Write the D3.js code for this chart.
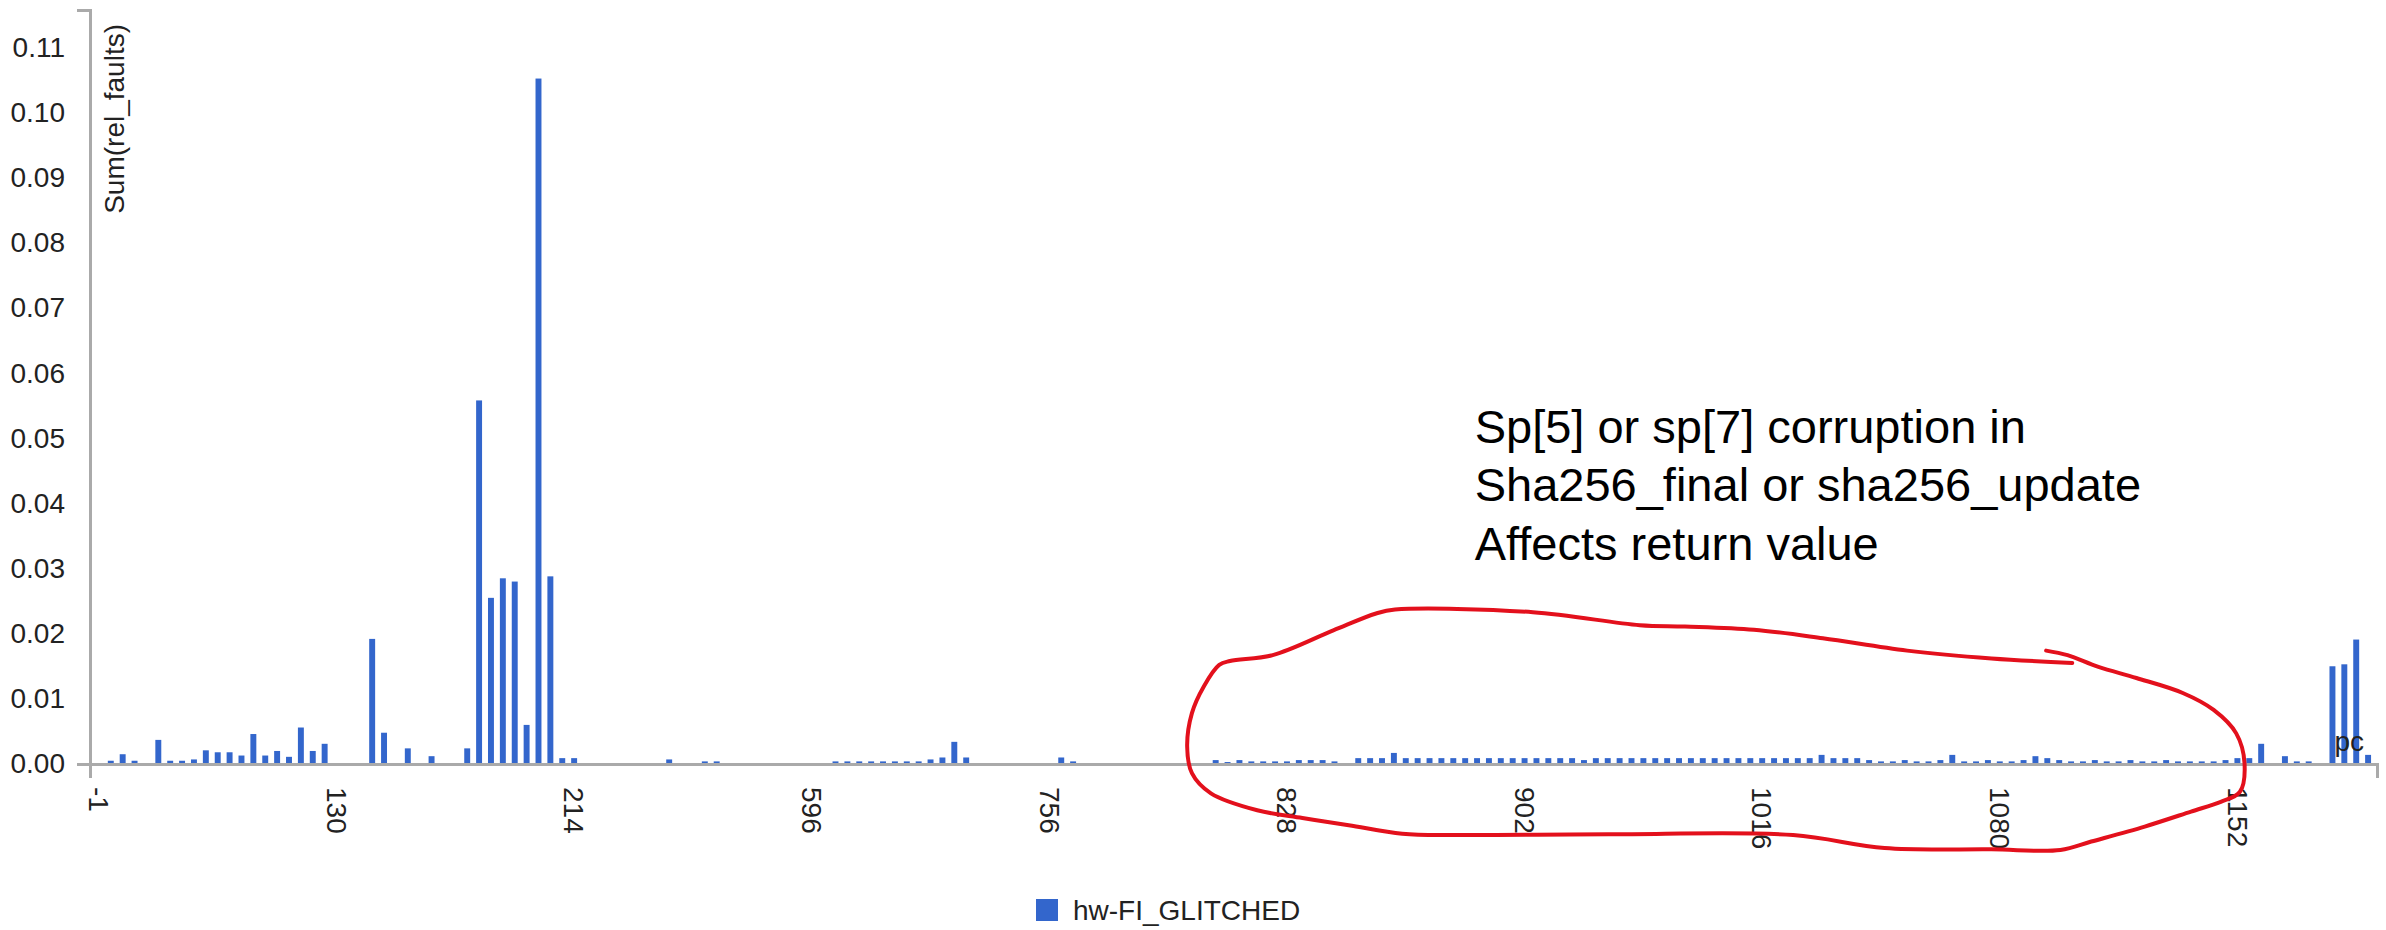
<!DOCTYPE html>
<html>
<head>
<meta charset="utf-8">
<script src="https://cdn.jsdelivr.net/npm/d3@7"></script>
<style>
  body { margin: 0; background: #fff; }
  #chart text { font-family: "Liberation Sans", Arial, sans-serif; }
</style>
</head>
<body>
<div id="chart" g-width="2386" g-height="930"></div>
<script>
// values per pc category (index 0..191)
let relFaults = [
    0, 0.0005, 0.0015, 0.0005, 0, 0.0037, 0.0005, 0.0005, 0.0007, 0.0021,
    0.0018, 0.0018, 0.0013, 0.0046, 0.0013, 0.0020, 0.0011, 0.0056, 0.0020, 0.0031,
    0, 0, 0, 0.0192, 0.0048, 0, 0.0024, 0, 0.0012, 0,
    0, 0.0024, 0.0558, 0.0255, 0.0285, 0.0280, 0.0060, 0.1052, 0.0288, 0.0009,
    0.0009, 0, 0, 0, 0, 0, 0, 0, 0.0007, 0,
    0, 0.0004, 0.0004, 0, 0, 0, 0, 0, 0, 0,
    0, 0, 0.0004, 0.0004, 0.0004, 0.0004, 0.0004, 0.0004, 0.0004, 0.0004,
    0.0007, 0.0010, 0.0034, 0.0010, 0, 0, 0, 0, 0, 0,
    0, 0.0010, 0.0004, 0, 0, 0, 0, 0, 0, 0,
    0, 0, 0, 0, 0.0006, 0.0003, 0.0006, 0.0004, 0.0004, 0.0004,
    0.0004, 0.0006, 0.0006, 0.0006, 0.0004, 0, 0.0009, 0.0009, 0.0009, 0.0017,
    0.0009, 0.0009, 0.0009, 0.0009, 0.0009, 0.0009, 0.0009, 0.0009, 0.0009, 0.0009,
    0.0009, 0.0009, 0.0009, 0.0009, 0.0009, 0.0006, 0.0009, 0.0009, 0.0009, 0.0009,
    0.0009, 0.0009, 0.0009, 0.0009, 0.0009, 0.0009, 0.0009, 0.0009, 0.0009, 0.0009,
    0.0009, 0.0009, 0.0009, 0.0009, 0.0009, 0.0014, 0.0009, 0.0009, 0.0009, 0.0006,
    0.0004, 0.0004, 0.0006, 0.0004, 0.0004, 0.0006, 0.0014, 0.0004, 0.0004, 0.0006,
    0.0004, 0.0004, 0.0006, 0.0012, 0.0009, 0.0006, 0.0004, 0.0004, 0.0006, 0.0004,
    0.0004, 0.0006, 0.0004, 0.0004, 0.0006, 0.0004, 0.0004, 0.0004, 0.0004, 0.0006,
    0.0009, 0.0009, 0.0031, 0, 0.0012, 0.0004, 0.0004, 0, 0.0150, 0.0153,
    0.0191, 0.0014
];

// only every 20th pc is labelled on the axis
let tickIndex = [0, 20, 40, 60, 80, 100, 120, 140, 160, 180];
let tickLabels = ["-1", "130", "214", "596", "756", "828", "902", "1016", "1080", "1152"];

let yTicks = [0, 0.01, 0.02, 0.03, 0.04, 0.05, 0.06, 0.07, 0.08, 0.09, 0.10, 0.11];

let seriesName = "hw-FI_GLITCHED";
let xTitle = "pc";
let yTitle = "Sum(rel_faults)";

let noteLines = ["Sp[5] or sp[7] corruption in", "Sha256_final or sha256_update", "Affects return value"];
let notePos = [115.8, 0.0493];   // [category index, value]

// hand drawn loop, as [category index, value]
let loopPoints = [
    [166.1, 0.0155], [159.3, 0.0162], [152.2, 0.0174], [145.1, 0.0193], [139.3, 0.0206],
    [133.5, 0.0211], [129.7, 0.0213], [120.7, 0.0233], [109.1, 0.0237], [107.5, 0.0231],
    [103.9, 0.0205], [98.8, 0.0167], [95.2, 0.0158], [94.3, 0.0152], [93.0, 0.0119],
    [92.0, 0.0078], [91.6, 0.0027], [92.0, -0.0014], [93.6, -0.0045], [97.5, -0.0071],
    [101.3, -0.0083], [105.2, -0.0094], [109.7, -0.0107], [114.2, -0.0109], [127.1, -0.0108],
    [142.6, -0.0109], [150.3, -0.0129], [159.3, -0.0131], [165.1, -0.0132], [167.7, -0.0119],
    [172.2, -0.0096], [176.1, -0.0073], [178.6, -0.0058], [180.2, -0.0043], [180.6, 0.0001],
    [179.9, 0.0047], [178.0, 0.0083], [175.4, 0.0109], [171.5, 0.0132], [168.3, 0.0149],
    [165.7, 0.0167], [163.9, 0.0174]
];

function drawChart(rootElement) {
    let element = d3.select("#" + rootElement);
    let width = +element.attr("g-width");
    let height = +element.attr("g-height");

    let svg = element.append("svg")
        .attr("width", width)
        .attr("height", height)
        .style("background", "#fff");

    let left = 90, right = 2377, top = 10, bottom = 764;
    let axisColor = "#aaa";

    let x = d3.scaleBand()
        .domain(d3.range(relFaults.length))
        .range([left, right])
        .padding(0.5);

    let y = d3.scaleLinear()
        .domain([0, d3.max(relFaults) * 1.1])
        .range([bottom, top]);

    // continuous version of the category axis, for the annotations
    let xi = d3.scaleLinear()
        .domain([0, relFaults.length - 1])
        .range([x(0) + x.bandwidth() / 2, x(relFaults.length - 1) + x.bandwidth() / 2]);

    svg.append("g")
        .selectAll("rect")
        .data(relFaults)
        .enter().append("rect")
        .attr("x", (d, i) => x(i))
        .attr("y", d => y(d))
        .attr("width", x.bandwidth())
        .attr("height", d => bottom - y(d))
        .attr("fill", "#3366cc");

    let xAxis = svg.append("g")
        .attr("transform", "translate(0," + bottom + ")")
        .call(d3.axisBottom(x)
            .tickValues(tickIndex)
            .tickFormat((d, i) => tickLabels[i])
            .tickSizeInner(0)
            .tickSizeOuter(14)
            .tickPadding(0));

    xAxis.selectAll("text")
        .attr("transform", "rotate(90)")
        .attr("x", 23)
        .attr("y", 0)
        .attr("dy", "0.35em")
        .style("text-anchor", "start")
        .style("font-size", "28px")
        .attr("fill", "#222");

    let yAxis = svg.append("g")
        .attr("transform", "translate(" + left + ",0)")
        .call(d3.axisLeft(y)
            .tickValues(yTicks)
            .tickFormat(d3.format(".2f"))
            .tickSizeInner(0)
            .tickSizeOuter(13)
            .tickPadding(25));

    yAxis.selectAll("text")
        .style("font-size", "28px")
        .attr("fill", "#222");

    svg.selectAll(".domain")
        .attr("stroke", axisColor)
        .attr("stroke-width", 3);

    svg.append("text")
        .attr("transform", "translate(124,24) rotate(-90)")
        .style("text-anchor", "end")
        .style("font-size", "28px")
        .attr("fill", "#222")
        .text(yTitle);

    svg.append("text")
        .attr("x", 2364)
        .attr("y", 751)
        .style("text-anchor", "end")
        .style("font-size", "28px")
        .attr("fill", "#222")
        .text(xTitle);

    // legend
    svg.append("rect")
        .attr("x", 1036)
        .attr("y", 899)
        .attr("width", 22)
        .attr("height", 22)
        .attr("fill", "#3366cc");

    svg.append("text")
        .attr("x", 1073)
        .attr("y", 920)
        .style("font-size", "28px")
        .attr("fill", "#222")
        .text(seriesName);

    // annotation
    svg.append("text")
        .attr("x", xi(notePos[0]))
        .attr("y", y(notePos[1]))
        .style("font-size", "47px")
        .attr("fill", "#000")
        .selectAll("tspan")
        .data(noteLines)
        .enter().append("tspan")
        .attr("x", xi(notePos[0]))
        .attr("dy", (d, i) => i === 0 ? 0 : 58.5)
        .text(d => d);

    let loop = d3.line()
        .x(d => xi(d[0]))
        .y(d => y(d[1]))
        .curve(d3.curveCatmullRom);

    svg.append("path")
        .attr("d", loop(loopPoints))
        .attr("fill", "none")
        .attr("stroke", "#e3101c")
        .attr("stroke-width", 4)
        .attr("stroke-linecap", "round")
        .attr("stroke-linejoin", "round");
}

drawChart("chart");
</script>
</body>
</html>
